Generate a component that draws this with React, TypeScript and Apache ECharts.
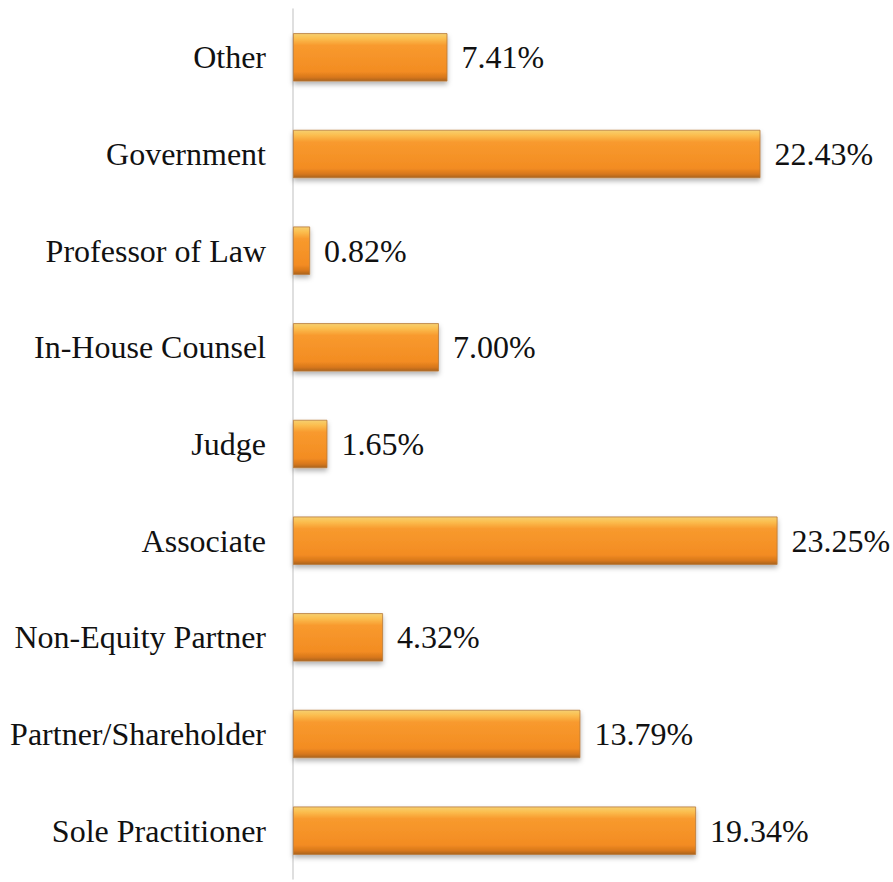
import React, { useEffect, useRef } from "react";
import * as echarts from "echarts";

const categories = [
  "Sole Practitioner",
  "Partner/Shareholder",
  "Non-Equity Partner",
  "Associate",
  "Judge",
  "In-House Counsel",
  "Professor of Law",
  "Government",
  "Other",
];
const values = [19.34, 13.79, 4.32, 23.25, 1.65, 7.0, 0.82, 22.43, 7.41];

export default function App() {
  const ref = useRef<HTMLDivElement>(null);
  useEffect(() => {
    if (!ref.current) return;
    const chart = echarts.init(ref.current, undefined, { renderer: "svg" });
    const font = "Liberation Serif";
    chart.setOption({
      animation: false,
      backgroundColor: "#ffffff",
      grid: { left: 293, top: 9, width: 521, height: 870 },
      xAxis: {
        type: "value",
        min: 0,
        max: 25,
        show: false,
      },
      yAxis: {
        type: "category",
        data: categories,
        axisLine: { show: true, lineStyle: { color: "#d4d4d4", width: 1.5 } },
        axisTick: { show: false },
        axisLabel: {
          color: "#111",
          fontFamily: font,
          fontSize: 32,
          margin: 27,
        },
      },
      series: [
        {
          type: "bar",
          data: values,
          barWidth: "50%",
          itemStyle: {
            color: new echarts.graphic.LinearGradient(0, 0, 0, 1, [
              { offset: 0, color: "#f6d070" },
              { offset: 0.1, color: "#fbbf50" },
              { offset: 0.25, color: "#f89a2e" },
              { offset: 0.8, color: "#f38c22" },
              { offset: 0.92, color: "#d7771a" },
              { offset: 1, color: "#a9631f" },
            ]),
            borderColor: "#b7783a",
            borderWidth: 0.8,
            shadowColor: "rgba(0,0,0,0.3)",
            shadowBlur: 5,
            shadowOffsetY: 3,
          },
          label: {
            show: true,
            position: "right",
            distance: 14,
            color: "#111",
            fontFamily: font,
            fontSize: 32,
            formatter: (p: any) => p.value.toFixed(2) + "%",
          },
        },
      ],
    });
    return () => chart.dispose();
  }, []);
  return (
    <div
      ref={ref}
      style={{ position: "fixed", left: 0, top: 0, width: 893, height: 882 }}
    />
  );
}
